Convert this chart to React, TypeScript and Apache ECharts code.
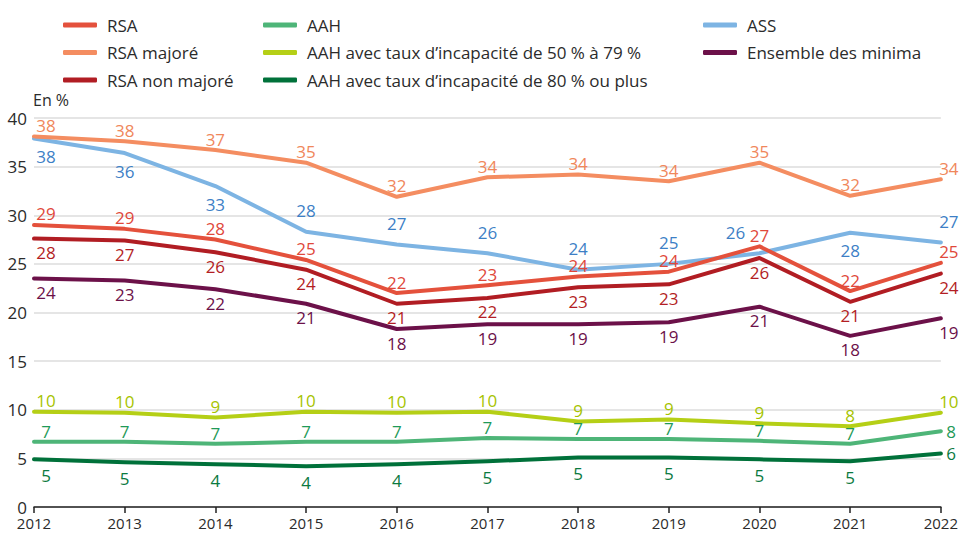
import React, { useEffect, useRef } from "react";
import * as echarts from "echarts";

const years = ["2012", "2013", "2014", "2015", "2016", "2017", "2018", "2019", "2020", "2021", "2022"];

const rsa = [29.0, 28.6, 27.5, 25.4, 22.0, 22.8, 23.7, 24.2, 26.8, 22.2, 25.1];
const rsaMajore = [38.1, 37.6, 36.7, 35.4, 31.9, 33.9, 34.2, 33.5, 35.4, 32.0, 33.7];
const rsaNonMajore = [27.6, 27.4, 26.2, 24.4, 20.9, 21.5, 22.6, 22.9, 25.6, 21.1, 24.0];
const aah = [6.7, 6.7, 6.5, 6.7, 6.7, 7.1, 7.0, 7.0, 6.8, 6.5, 7.8];
const aah5079 = [9.8, 9.7, 9.2, 9.8, 9.7, 9.8, 8.8, 9.0, 8.6, 8.3, 9.7];
const aah80 = [4.9, 4.6, 4.4, 4.2, 4.4, 4.7, 5.1, 5.1, 4.9, 4.7, 5.5];
const ass = [37.9, 36.4, 33.0, 28.3, 27.0, 26.1, 24.4, 25.0, 26.1, 28.2, 27.2];
const ensemble = [23.5, 23.3, 22.4, 20.9, 18.3, 18.8, 18.8, 19.0, 20.6, 17.6, 19.4];

const yTicks = [0, 5, 10, 15, 20, 25, 30, 35, 40];

const FONT = "'Open Sans', sans-serif";

type Pos = "top" | "bottom" | "right";

interface SeriesDef {
  name: string;
  values: number[];
  line: string;
  labelColor: string;
  positions: Pos[];
  dTop: number;
  dBottom: number;
}

const T: Pos = "top";
const B: Pos = "bottom";
const R: Pos = "right";

const defs: SeriesDef[] = [
  { name: "ASS", values: ass, line: "#7db4e3", labelColor: "#3d7fc6", positions: [B, B, B, T, T, T, T, T, T, B, T], dTop: 14, dBottom: 11 },
  { name: "RSA majoré", values: rsaMajore, line: "#f48d61", labelColor: "#f0875b", positions: [T, T, T, T, T, T, T, T, T, T, T], dTop: 4, dBottom: 7 },
  { name: "RSA", values: rsa, line: "#e4513c", labelColor: "#e0483a", positions: [T, T, T, T, T, T, T, T, T, T, T], dTop: 4, dBottom: 7 },
  { name: "RSA non majoré", values: rsaNonMajore, line: "#b11d23", labelColor: "#b31e24", positions: [B, B, B, B, B, B, B, B, B, B, B], dTop: 4, dBottom: 7 },
  { name: "Ensemble des minima", values: ensemble, line: "#6c1149", labelColor: "#6c1149", positions: [B, B, B, B, B, B, B, B, B, B, B], dTop: 4, dBottom: 7 },
  { name: "AAH avec taux d\u2019incapacité de 50 % à 79 %", values: aah5079, line: "#b5cf16", labelColor: "#a6c300", positions: [T, T, T, T, T, T, T, T, T, T, T], dTop: 4, dBottom: 7 },
  { name: "AAH", values: aah, line: "#4eb578", labelColor: "#1f9a58", positions: [T, T, T, T, T, T, T, T, T, T, R], dTop: 3, dBottom: 7 },
  { name: "AAH avec taux d\u2019incapacité de 80 % ou plus", values: aah80, line: "#00713a", labelColor: "#0b7a3f", positions: [B, B, B, B, B, B, B, B, B, B, R], dTop: 4, dBottom: 9 },
];

const legendCols = [
  { left: 58, names: ["RSA", "RSA majoré", "RSA non majoré"] },
  { left: 258, names: ["AAH", "AAH avec taux d\u2019incapacité de 50 % à 79 %", "AAH avec taux d\u2019incapacité de 80 % ou plus"] },
  { left: 698, names: ["ASS", "Ensemble des minima"] },
];

function buildSeries() {
  return defs.map((d) => ({
    name: d.name,
    type: "line",
    symbol: "circle",
    symbolSize: 1,
    showSymbol: true,
    itemStyle: { color: d.line },
    lineStyle: { color: d.line, width: 4, cap: "round", join: "round" },
    emphasis: { disabled: true },
    data: d.values.map((v, i) => {
      const pos = d.positions[i];
      // horizontal shift via asymmetric padding (text stays centred in its box)
      let padding: number[] = [0, 0, 0, 0];
      if (i === 0) padding = [0, 0, 0, 24];
      if (i === d.values.length - 1 && pos !== "right") padding = [0, 0, 0, 16];
      if (d.name === "ASS" && i === 8) padding = [0, 48, 0, 0];
      return {
        value: v,
        label: {
          position: pos,
          distance: pos === "top" ? d.dTop : pos === "bottom" ? d.dBottom : 5,
          padding,
        },
      };
    }),
    label: {
      show: true,
      color: d.labelColor,
      fontFamily: FONT,
      fontSize: 17,
      lineHeight: 13,
      formatter: (p: any) => String(Math.round(p.value)),
    },
    labelLayout: { hideOverlap: false },
    z: 2,
  }));
}

export default function App() {
  const ref = useRef<HTMLDivElement>(null);
  useEffect(() => {
    if (!ref.current) return;
    const chart = echarts.init(ref.current, undefined, { renderer: "svg" });
    const colorOf: Record<string, string> = {};
    defs.forEach((d) => (colorOf[d.name] = d.line));
    chart.setOption({
      animation: false,
      backgroundColor: "#ffffff",
      color: defs.map((d) => d.line),
      legend: legendCols.map((c) => ({
        orient: "vertical",
        left: c.left,
        top: 10,
        itemWidth: 34,
        itemHeight: 5,
        itemGap: 7.5,
        icon: "roundRect",
        selectedMode: false,
        data: c.names.map((n) => ({ name: n, icon: "roundRect", itemStyle: { color: colorOf[n], opacity: 1 } })),
        textStyle: {
          fontFamily: FONT,
          fontSize: 17,
          color: "#2b2b2b",
          lineHeight: 20,
          padding: [0, 0, 0, 5],
        },
      })),
      graphic: [
        {
          type: "text",
          left: 33,
          top: 92,
          style: { text: "En %", fontFamily: FONT, fontSize: 16, fill: "#2b2b2b" },
        },
      ],
      grid: { left: 34, right: 20, top: 118, bottom: 27, containLabel: false },
      xAxis: {
        type: "category",
        data: years,
        boundaryGap: false,
        axisLine: { lineStyle: { color: "#222", width: 1.5 } },
        axisTick: { show: true, length: 6, lineStyle: { color: "#222", width: 1.5 } },
        axisLabel: { color: "#2b2b2b", fontFamily: FONT, fontSize: 15, lineHeight: 15, margin: 8, interval: 0 },
        splitLine: { show: false },
      },
      yAxis: {
        type: "value",
        min: yTicks[0],
        max: yTicks[yTicks.length - 1],
        interval: 5,
        axisLine: { show: false },
        axisTick: { show: false },
        axisLabel: { color: "#2b2b2b", fontFamily: FONT, fontSize: 17, margin: 7 },
        splitLine: { lineStyle: { color: "#dddddd", width: 1.5 } },
      },
      series: buildSeries(),
    });
    return () => chart.dispose();
  }, []);
  return <div ref={ref} style={{ width: 961, height: 534, position: "absolute", left: 0, top: 0 }} />;
}
